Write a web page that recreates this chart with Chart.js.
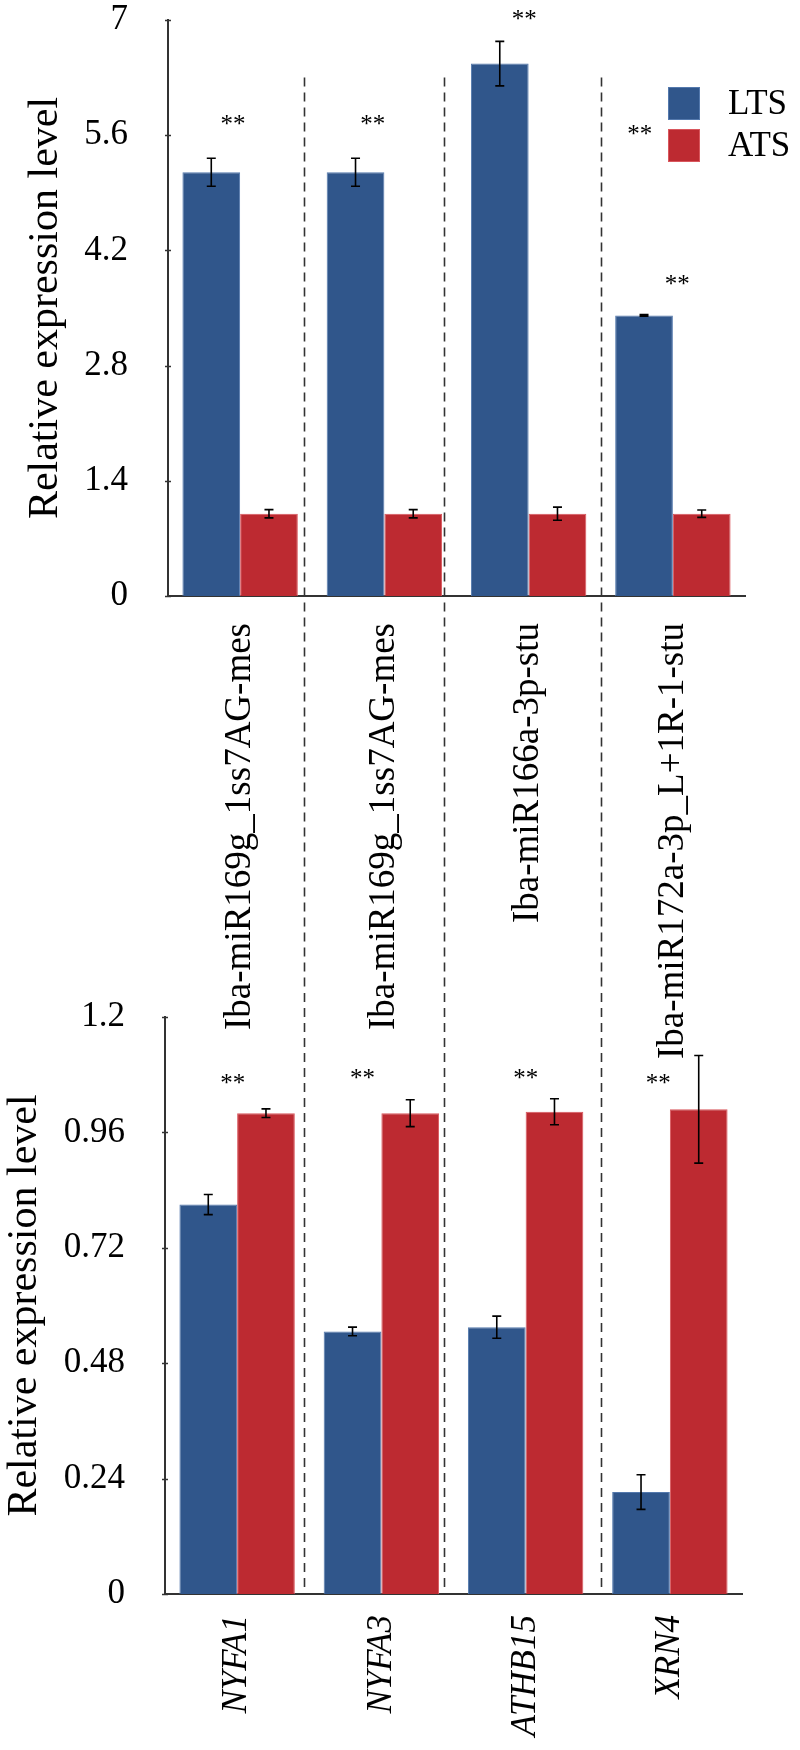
<!DOCTYPE html>
<html>
<head>
<meta charset="utf-8">
<script src="https://cdn.jsdelivr.net/npm/chart.js@4.4.0/dist/chart.umd.min.js"></script>
<style>
  body { margin: 0; background: #fff; }
</style>
</head>
<body>
<canvas id="topChart" width="800" height="1070"></canvas>
<canvas id="bottomChart" width="800" height="760"></canvas>
<script>
// ---- data ----
const seriesNames = ['LTS', 'ATS'];

const mirLabels = ['Iba-miR169g_1ss7AG-mes', 'Iba-miR169g_1ss7AG-mes', 'Iba-miR166a-3p-stu', 'Iba-miR172a-3p_L+1R-1-stu'];
const mirLTS = [5.15, 5.15, 6.47, 3.41];
const mirLTSErr = [0.17, 0.17, 0.27, 0.01];
const mirATS = [1.0, 1.0, 1.0, 1.0];
const mirATSErr = [0.05, 0.05, 0.08, 0.045];
const mirTicks = [0, 1.4, 2.8, 4.2, 5.6, 7];
// "**" marks: category index, small shift, height
const mirSigIdx = [0, 1, 2, 3, 3];
const mirSigShift = [-0.05, -0.08, -0.03, -0.23, 0.03];
const mirSigY = [5.8, 5.8, 7.07, 5.68, 3.85];

const geneLabels = ['NYFA1', 'NYFA3', 'ATHB15', 'XRN4'];
const geneLTS = [0.81, 0.546, 0.555, 0.212];
const geneLTSErr = [0.021, 0.009, 0.023, 0.036];
const geneATS = [1.0, 1.0, 1.003, 1.008];
const geneATSErr = [0.009, 0.028, 0.027, 0.112];
const geneTicks = [0, 0.24, 0.48, 0.72, 0.96, 1.2];
const geneSigIdx = [0, 1, 2, 3];
const geneSigShift = [-0.03, -0.13, 0, -0.08];
const geneSigY = [1.074, 1.084, 1.084, 1.074];

const blue = '#30568b';
const red = '#bd2a31';
const serif = "'Liberation Serif', 'Times New Roman', serif";
const SPLIT = 990; // where the lower canvas starts

document.getElementById('topChart').style.cssText = 'position:absolute;left:0;top:0';
document.getElementById('bottomChart').style.cssText = 'position:absolute;left:0;top:' + SPLIT + 'px';

// ---- plugins ----
const errorBars = {
    id: 'errorBars',
    afterDatasetsDraw(chart) {
        const ctx = chart.ctx, y = chart.scales.y;
        ctx.save();
        ctx.strokeStyle = '#000';
        ctx.lineWidth = 1.6;
        chart.data.datasets.forEach((ds, di) => {
            chart.getDatasetMeta(di).data.forEach((bar, i) => {
                const v = ds.data[i], e = ds.errors[i];
                const yt = y.getPixelForValue(v + e), yb = y.getPixelForValue(v - e);
                ctx.beginPath();
                ctx.moveTo(bar.x, yt); ctx.lineTo(bar.x, yb);
                ctx.moveTo(bar.x - 4.5, yt); ctx.lineTo(bar.x + 4.5, yt);
                ctx.moveTo(bar.x - 4.5, yb); ctx.lineTo(bar.x + 4.5, yb);
                ctx.stroke();
            });
        });
        ctx.restore();
    }
};

const extras = {
    id: 'extras',
    afterDraw(chart, args, opts) {
        const ctx = chart.ctx, x = chart.scales.x, y = chart.scales.y;
        const left = chart.chartArea.left;
        ctx.save();
        // small tick marks crossing the y axis
        ctx.strokeStyle = '#333';
        ctx.lineWidth = 1.5;
        y.ticks.forEach(t => {
            const py = Math.round(y.getPixelForValue(t.value)) + 0.5;
            ctx.beginPath();
            ctx.moveTo(left - 3, py); ctx.lineTo(left + 3, py);
            ctx.stroke();
        });
        // dashed separators
        ctx.lineWidth = 1.6;
        ctx.setLineDash([9, 6]);
        ctx.lineDashOffset = opts.dashOffset || 0;
        const y0 = opts.lineFrom != null ? y.getPixelForValue(opts.lineFrom) : 0;
        const y1 = opts.lineTo != null ? opts.lineTo : chart.chartArea.bottom;
        opts.dividers.forEach(d => {
            const px = Math.round(x.getPixelForValue(d)) + 0.5;
            ctx.beginPath();
            ctx.moveTo(px, y0); ctx.lineTo(px, y1);
            ctx.stroke();
        });
        ctx.setLineDash([]);
        // significance marks
        ctx.fillStyle = '#000';
        ctx.font = '25px ' + serif;
        ctx.textAlign = 'center';
        ctx.textBaseline = 'alphabetic';
        opts.sigIdx.forEach((c, i) => {
            const px = x.getPixelForValue(c + opts.sigShift[i]);
            const py = y.getPixelForValue(opts.sigY[i]);
            ctx.fillText('**', px, py + 13);
        });
        // legend
        if (opts.legend) {
            ctx.font = '35px ' + serif;
            ctx.textAlign = 'left';
            ctx.textBaseline = 'middle';
            chart.data.datasets.forEach((ds, i) => {
                const top = 87 + i * 42;
                ctx.fillStyle = ds.backgroundColor;
                ctx.fillRect(668, top, 32, 33);
                ctx.strokeStyle = ds.borderColor;
                ctx.lineWidth = 1;
                ctx.strokeRect(668.5, top + 0.5, 31, 32);
                ctx.fillStyle = '#000';
                ctx.fillText(ds.label, 728, top + 18);
            });
        }
        ctx.restore();
    }
};

function makeChart(id, labels, lts, ltsErr, ats, atsErr, ticks, opts) {
    return new Chart(document.getElementById(id), {
        type: 'bar',
        data: {
            labels: labels,
            datasets: [
                { label: seriesNames[0], data: lts, errors: ltsErr, backgroundColor: blue, borderColor: '#5479ad', borderWidth: 1 },
                { label: seriesNames[1], data: ats, errors: atsErr, backgroundColor: red, borderColor: '#d9575d', borderWidth: 1 }
            ]
        },
        options: {
            responsive: false,
            animation: false,
            layout: { padding: opts.padding },
            datasets: { bar: { categoryPercentage: 0.8, barPercentage: 1.0 } },
            plugins: {
                legend: { display: false },
                tooltip: { enabled: false },
                extras: opts.extras
            },
            scales: {
                x: {
                    grid: { display: false },
                    border: { display: true, color: '#333', width: 2 },
                    ticks: {
                        autoSkip: false, minRotation: 90, maxRotation: 90, padding: opts.labelGap,
                        color: '#000',
                        font: { family: serif, size: opts.labelSize, style: opts.italic ? 'italic' : 'normal', lineHeight: 1 }
                    },
                    afterFit: s => { s.height = opts.xHeight; }
                },
                y: {
                    min: ticks[0],
                    max: ticks[ticks.length - 1],
                    afterBuildTicks: s => { s.ticks = ticks.map(v => ({ value: v })); },
                    grid: { display: false },
                    border: { display: true, color: '#333', width: 2 },
                    ticks: {
                        padding: 32, color: '#000',
                        font: { family: serif, size: 35, lineHeight: 1 },
                        callback: v => String(v)
                    },
                    title: {
                        display: true, text: 'Relative expression level', color: '#000',
                        font: { family: serif, size: 42 },
                        padding: { top: opts.titlePad, bottom: 0 }
                    },
                    afterFit: s => {
                        s.width = opts.yWidth;
                        s.paddingTop = 0;
                        s.paddingBottom = 0;
                    }
                }
            }
        },
        plugins: [errorBars, extras]
    });
}

makeChart('topChart', mirLabels, mirLTS, mirLTSErr, mirATS, mirATSErr, mirTicks, {
    padding: { left: 0, right: 55, top: 20, bottom: 0 },
    yWidth: 168, xHeight: 1070 - 596, labelGap: 19, labelSize: 37, titlePad: 21, italic: false,
    extras: {
        dividers: [0.443, 1.41, 2.5], lineFrom: 6.3, lineTo: SPLIT,
        sigIdx: mirSigIdx, sigShift: mirSigShift, sigY: mirSigY, legend: true
    }
});

makeChart('bottomChart', geneLabels, geneLTS, geneLTSErr, geneATS, geneATSErr, geneTicks, {
    padding: { left: 0, right: 58, top: 27, bottom: 0 },
    yWidth: 165, xHeight: 760 - 604, labelGap: 13, labelSize: 35, titlePad: 0, italic: true,
    extras: {
        dividers: [0.464, 1.431, 2.521], dashOffset: (SPLIT - 78) % 15,
        sigIdx: geneSigIdx, sigShift: geneSigShift, sigY: geneSigY, legend: false
    }
});
</script>
</body>
</html>
